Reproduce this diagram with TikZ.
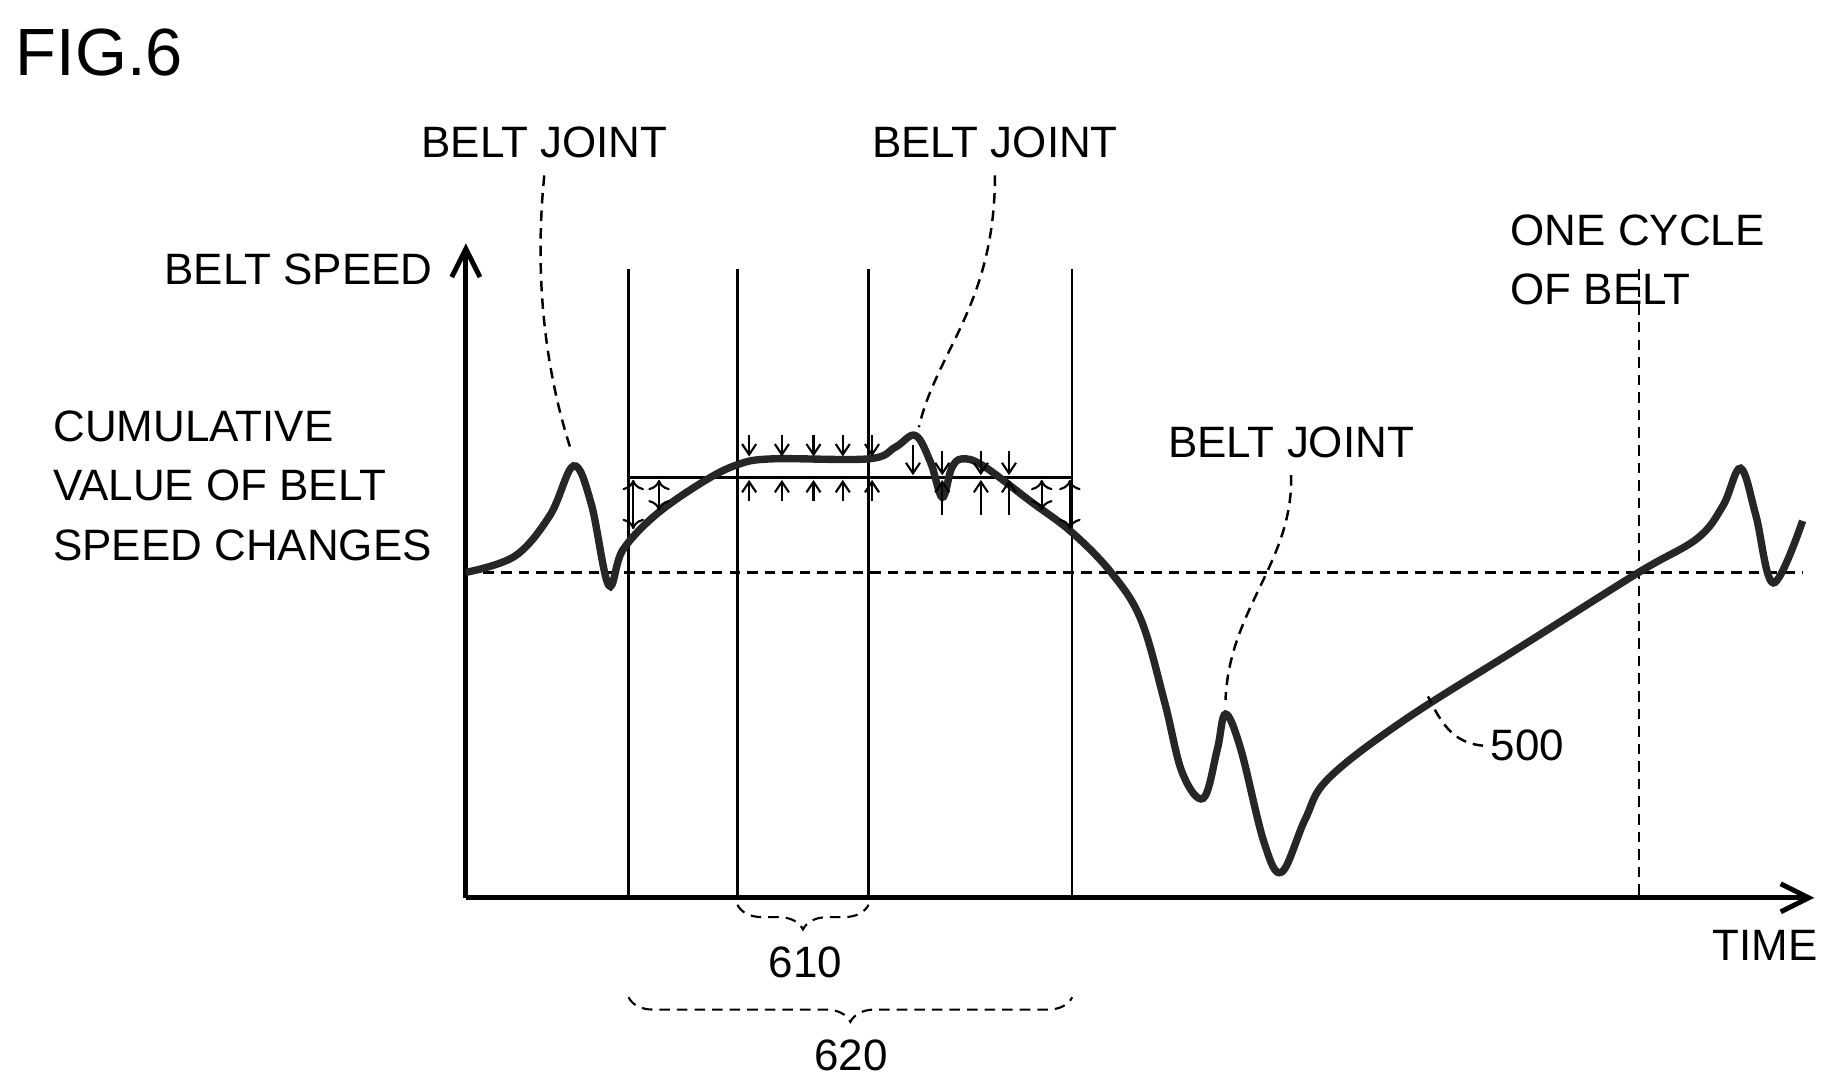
\documentclass[tikz,border=0pt]{standalone}
\usepackage{fontspec}
\setmainfont{Liberation Sans}
\usetikzlibrary{arrows.meta,decorations.pathreplacing,positioning}
\tikzset{
  lbl/.style={font=\fontsize{12.5}{17}\selectfont, inner sep=0pt},
  axis/.style={line width=1.4pt,-{Straight Barb[length=8pt,width=8pt]}},
  grid/.style={line width=0.7pt},
  curve/.style={line width=2.1pt, black!85},
  leader/.style={line width=0.7pt, densely dashed},
  gap/.style={line width=0.6pt,-{Straight Barb[length=3pt,width=4pt]}},
  brc/.style={line width=0.6pt, densely dashed, decorate, decoration={brace,mirror,amplitude=7pt}}
}
\begin{document}
\begin{tikzpicture}[x=0.011705cm,y=-0.011705cm]
\useasboundingbox (0,0) rectangle (1560,929.5);
\node[lbl, font=\fontsize{19}{22}\selectfont] (fig) at (85,45) {FIG.6};

% axes
\coordinate (o) at (398,767);
\draw[axis] (o) -- (398,208);
\draw[axis] (o) -- (1550,767);
\draw[leader] (398,489) -- (1540,489);

% measuring window
\foreach \x in {537,630,742,916} \draw[grid] (\x,230) -- (\x,767);
\draw[leader] (1400,230) -- (1400,767);
\draw[grid] (537,408) -- (916,408);

% belt speed 500
\draw[curve] plot[smooth, tension=0.6] coordinates {
 (398,489) (440,475) (470,440) (490,398) (505,430) (520,500) (532,470)
 (560,440) (600,412) (630,397) (660,392) (742,392) (765,382) (782,372)
 (795,395) (805,425) (813,400) (822,392) (840,398) (880,428) (916,455)
 (950,490) (975,530) (995,600) (1010,660) (1028,682) (1040,640) (1047,610)
 (1060,640) (1080,720) (1095,745) (1115,700) (1135,665) (1200,615)
 (1300,552) (1400,489) (1450,460) (1472,432) (1487,400) (1500,440)
 (1515,498) (1540,445)};

% deviation arrows
\draw[gap,<->] (541,410) -- (541,452);
\draw[gap,<->] (563,410) -- (563,436);
\foreach \x in {640,668,695,720,745} {
  \draw[gap] (\x,372) -- (\x,390);
  \draw[gap] (\x,428) -- (\x,410);
}
\draw[gap] (780,380) -- (780,406);
\foreach \x in {805,838,862} {
  \draw[gap] (\x,385) -- (\x,406);
  \draw[gap] (\x,440) -- (\x,410);
}
\draw[gap,<->] (890,410) -- (890,436);
\draw[gap,<->] (914,410) -- (914,452);

% labels
\node[lbl] (jnt1) at (465,122) {BELT JOINT};
\node[lbl] (jnt2) at (850,122) {BELT JOINT};
\node[lbl] (jnt3) at (1103,378) {BELT JOINT};
\draw[leader] (jnt1.south) ++(0,14) .. controls (455,250) and (470,330) .. (488,385);
\draw[leader] (jnt2.south) ++(0,14) .. controls (850,260) and (800,300) .. (785,365);
\draw[leader] (jnt3.south) ++(0,14) .. controls (1105,480) and (1050,520) .. (1047,598);
\node[lbl, align=left, anchor=west] (cyc) at (1290,222) {ONE CYCLE\\OF BELT};
\node[lbl, anchor=east] (ylab) at (370,230) {BELT SPEED};
\node[lbl, align=left, anchor=west] (cum) at (45,415) {CUMULATIVE\\VALUE OF BELT\\SPEED CHANGES};
\node[lbl] (c500) at (1305,637) {500};
\draw[leader] (c500.west) ++(-6,0) .. controls (1240,635) and (1230,615) .. (1220,595);
\node[lbl] (tlab) at (1508,808) {TIME};

% braces
\draw[brc] (630,773) -- (742,773);
\node[lbl] (w610) at (688,822) {610};
\draw[brc] (537,852) -- (916,852);
\node[lbl] (w620) at (727,902) {620};
\end{tikzpicture}
\end{document}
